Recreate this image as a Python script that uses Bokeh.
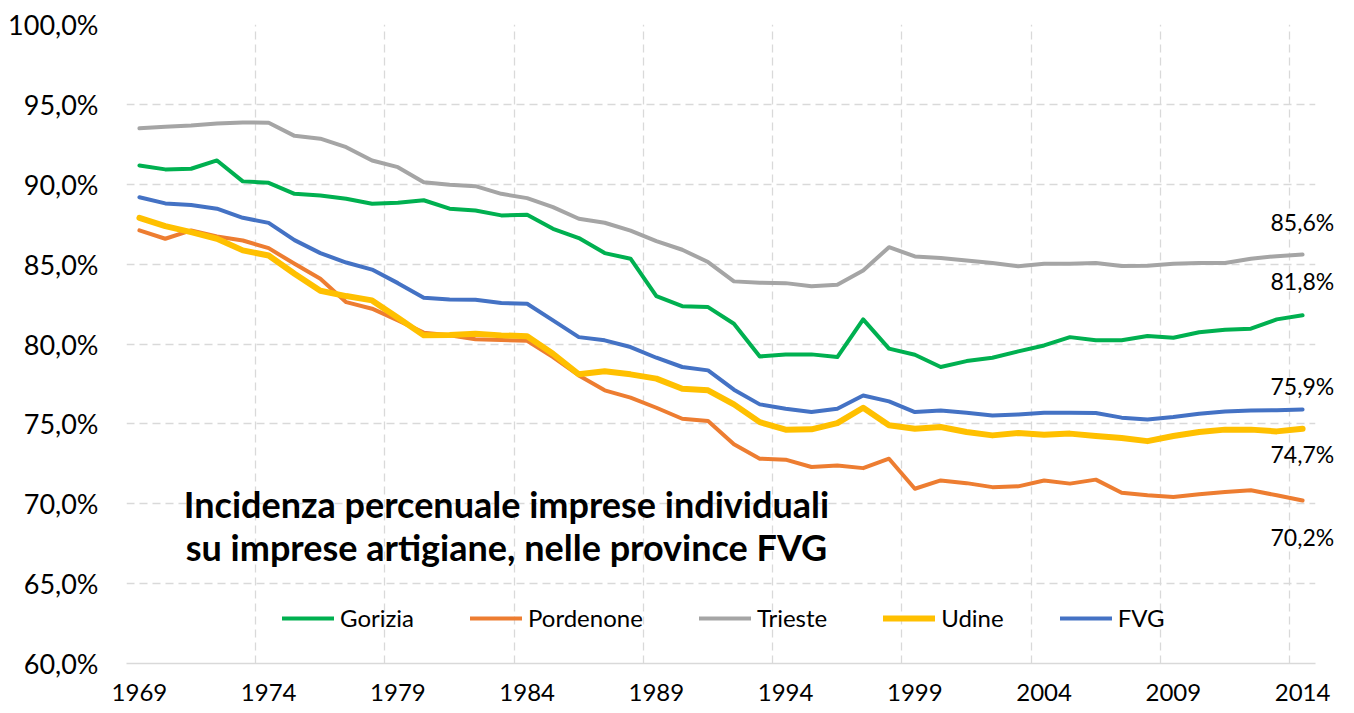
from bokeh.plotting import figure
from bokeh.models import ColumnDataSource, FixedTicker, Range1d, Label, Legend, LegendItem, LinearAxis
from bokeh.embed import file_html
from bokeh.resources import INLINE

years = list(range(1969, 2015))

gorizia = [91.18, 90.93, 90.97, 91.49, 90.18, 90.09, 89.40, 89.30, 89.09, 88.78,
           88.84, 89.00, 88.47, 88.36, 88.05, 88.09, 87.21, 86.63, 85.69, 85.34,
           83.00, 82.37, 82.31, 81.27, 79.22, 79.35, 79.35, 79.18, 81.54, 79.71,
           79.33, 78.56, 78.93, 79.14, 79.54, 79.91, 80.43, 80.23, 80.23, 80.50,
           80.39, 80.74, 80.89, 80.96, 81.54, 81.80]
pordenone = [87.11, 86.59, 87.11, 86.73, 86.48, 86.00, 85.02, 84.08, 82.62, 82.21,
             81.48, 80.71, 80.55, 80.30, 80.25, 80.20, 79.18, 78.03, 77.10, 76.64,
             76.01, 75.32, 75.18, 73.72, 72.82, 72.76, 72.30, 72.40, 72.23, 72.82,
             70.94, 71.46, 71.29, 71.04, 71.09, 71.46, 71.26, 71.51, 70.69, 70.53,
             70.42, 70.59, 70.73, 70.84, 70.53, 70.20]
trieste = [93.50, 93.60, 93.68, 93.80, 93.87, 93.85, 93.03, 92.85, 92.32, 91.49,
           91.07, 90.13, 89.97, 89.88, 89.40, 89.13, 88.57, 87.84, 87.59, 87.10,
           86.44, 85.90, 85.13, 83.92, 83.83, 83.81, 83.62, 83.71, 84.60, 86.06,
           85.48, 85.38, 85.23, 85.07, 84.86, 85.02, 85.02, 85.07, 84.88, 84.90,
           85.02, 85.07, 85.07, 85.34, 85.50, 85.60]
udine = [87.90, 87.38, 87.00, 86.59, 85.86, 85.54, 84.40, 83.33, 83.00, 82.73,
         81.65, 80.54, 80.56, 80.64, 80.54, 80.48, 79.39, 78.10, 78.29, 78.10,
         77.83, 77.20, 77.10, 76.22, 75.11, 74.64, 74.66, 75.05, 76.01, 74.91,
         74.70, 74.80, 74.49, 74.28, 74.43, 74.32, 74.39, 74.24, 74.11, 73.92,
         74.24, 74.49, 74.64, 74.64, 74.53, 74.70]
fvg = [89.19, 88.80, 88.70, 88.47, 87.90, 87.58, 86.50, 85.69, 85.10, 84.66,
       83.81, 82.90, 82.78, 82.77, 82.56, 82.52, 81.48, 80.43, 80.23, 79.81,
       79.14, 78.56, 78.35, 77.14, 76.22, 75.95, 75.74, 75.95, 76.78, 76.41,
       75.74, 75.84, 75.70, 75.53, 75.59, 75.70, 75.70, 75.68, 75.39, 75.28,
       75.43, 75.64, 75.78, 75.84, 75.86, 75.90]

series_names = ["Gorizia", "Pordenone", "Trieste", "Udine", "FVG"]
series_values = [gorizia, pordenone, trieste, udine, fvg]

y_ticks = [60, 65, 70, 75, 80, 85, 90, 95, 100]
x_tick_years = [1969, 1974, 1979, 1984, 1989, 1994, 1999, 2004, 2009, 2014]

title_lines = ["Incidenza percenuale imprese individuali",
               "su imprese artigiane, nelle province FVG"]

# styles
colors = ["#00B050", "#ED7D31", "#A5A5A5", "#FFC000", "#4472C4"]
widths = [4, 4, 4, 6, 4]
end_label_dy_px = [34, -36, 33, -25, 23]   # vertical pixel offset of end labels
FONT = "Lato"
FRAME_H = 639


def pct(v):
    return f"{v:.1f}".replace(".", ",") + "%"


p = figure(width=1340, height=712, output_backend="svg", toolbar_location=None,
           x_range=Range1d(years[0] - 0.5, years[-1] + 0.5),
           y_range=Range1d(y_ticks[0], y_ticks[-1]),
           min_border_left=126, min_border_right=25,
           min_border_top=24, min_border_bottom=49)
p.outline_line_color = None
p.background_fill_color = "white"
p.border_fill_color = "white"

renderers = []
for name, vals, c, w in zip(series_names, series_values, colors, widths):
    src = ColumnDataSource(dict(x=years, y=vals))
    r = p.line("x", "y", source=src, line_color=c, line_width=w,
               line_join="round", line_cap="round")
    renderers.append((name, r))

# axes
p.yaxis.ticker = FixedTicker(ticks=y_ticks)
p.yaxis.major_label_overrides = {t: pct(t) for t in y_ticks}
p.xaxis.ticker = FixedTicker(ticks=x_tick_years)
p.xaxis.major_label_overrides = {t: str(t) for t in x_tick_years}
for ax in (p.xaxis, p.yaxis):
    ax.major_tick_out = 0
    ax.major_tick_in = 0
    ax.minor_tick_line_color = None
    ax.major_tick_line_color = None
    ax.major_label_text_font = FONT
    ax.major_label_text_color = "#000000"
p.yaxis.major_label_text_font_size = "27px"
p.yaxis.axis_line_color = None
p.yaxis.major_label_standoff = 28
p.xaxis.axis_line_color = "#D9D9D9"
p.xaxis.axis_line_width = 1.6
p.xaxis.major_label_standoff = 20
p.xaxis.major_label_text_font_size = "24px"

# grids
p.xgrid.ticker = FixedTicker(ticks=[y - 0.5 for y in x_tick_years])
p.ygrid.ticker = FixedTicker(ticks=y_ticks)
for g in (p.xgrid, p.ygrid):
    g.grid_line_color = "#D9D9D9"
    g.grid_line_dash = "8 5"
    g.grid_line_width = 1.3

# end-of-series value labels, as a right-hand axis (not clipped by the frame)
units_per_px = (y_ticks[-1] - y_ticks[0]) / FRAME_H
end_ticks = [vals[-1] + dy * units_per_px for vals, dy in zip(series_values, end_label_dy_px)]
end_axis = LinearAxis(ticker=FixedTicker(ticks=end_ticks),
                      major_label_overrides={t: pct(vals[-1]) for t, vals in zip(end_ticks, series_values)},
                      axis_line_color=None, major_tick_line_color=None,
                      minor_tick_line_color=None, major_tick_out=0, major_tick_in=0,
                      minor_tick_out=0, minor_tick_in=0,
                      major_label_standoff=-45, major_label_text_font=FONT,
                      major_label_text_font_size="23px", major_label_text_color="#000000")
p.add_layout(end_axis, "right")

# title inside plot
title_x = 1983.2
title_y = [70.0, 67.3]
for line, ty in zip(title_lines, title_y):
    p.add_layout(Label(x=title_x, y=ty, text=line, text_align="center",
                       text_baseline="middle", text_font=FONT,
                       text_font_style="bold", text_font_size="36px",
                       text_color="#000000"))

# legend
legend = Legend(items=[LegendItem(label=n, renderers=[r]) for n, r in renderers],
                orientation="horizontal", location=(156, 31),
                glyph_width=52, glyph_height=20, label_height=20,
                label_standoff=6, spacing=56, padding=0, margin=0,
                label_text_font=FONT, label_text_font_size="24px",
                label_text_color="#000000",
                border_line_color=None, background_fill_alpha=0)
p.add_layout(legend)

open("out.html", "w").write(file_html(p, INLINE))
